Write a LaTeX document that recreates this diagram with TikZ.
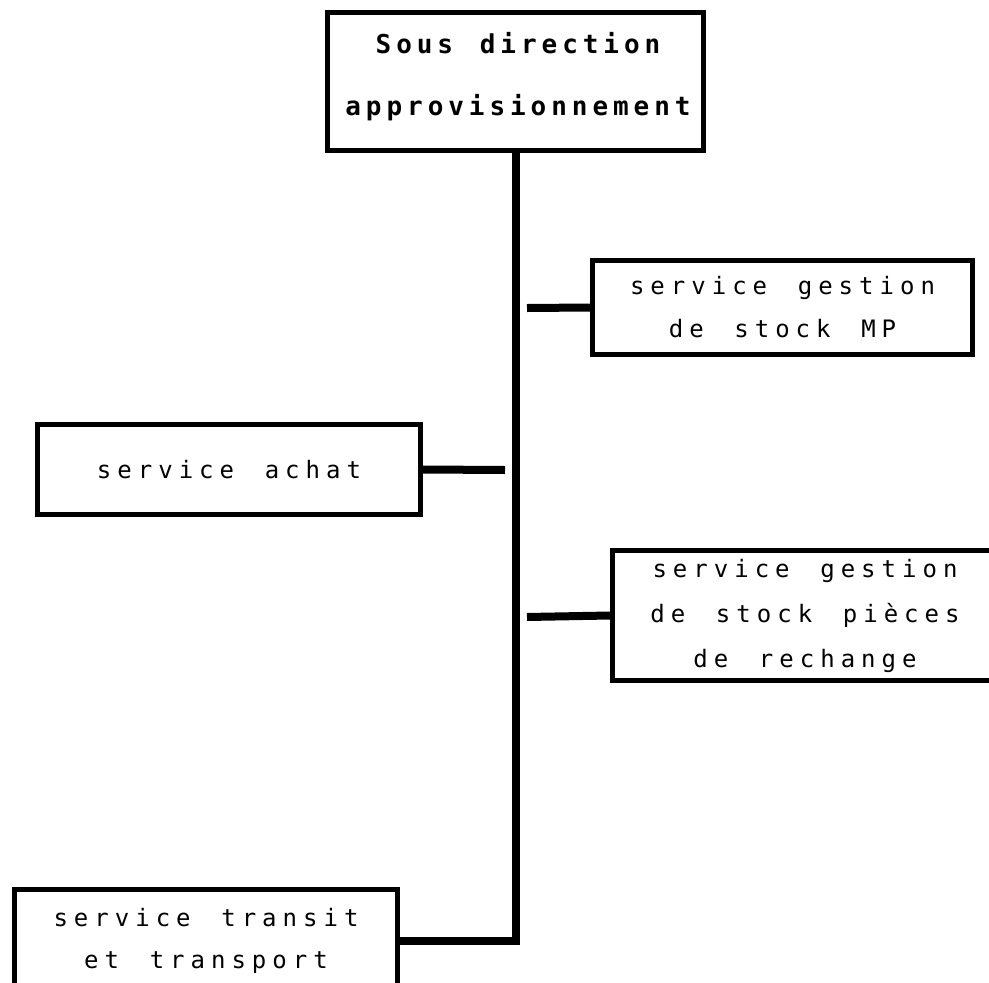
\documentclass[tikz,border=0pt]{standalone}
\usepackage{fontspec}
% widely spaced monospaced lettering of the organisation chart
\newfontfamily\orgfont[LetterSpace=25,WordSpace=1.5]{DejaVu Sans Mono}
\newfontfamily\orgheadfont[LetterSpace=19,WordSpace=1.3]{DejaVu Sans Mono Bold}
\begin{document}
\begin{tikzpicture}[x=1pt,y=-1pt,
  unitbox/.style={draw=black, line width=5pt, inner sep=0pt, align=center,
    font=\orgfont\fontsize{24}{43}\selectfont},
  link/.style={draw=black, line width=8pt, line join=miter}]
\useasboundingbox (0,0) rectangle (989,983);
\clip (0,0) rectangle (989,983);

% head of the department
\node[unitbox, minimum width=376pt, minimum height=138pt] (head) at (515.5,81.5) {};
\node[font=\orgheadfont\fontsize{26}{62}\selectfont, align=center, inner sep=0pt]
  (headlabel) at (518,77) {Sous direction\\approvisionnement};

% services
\node[unitbox, minimum width=380pt, minimum height=94pt] (mp) at (782.5,307.5)
  {service gestion\\de stock MP};
\node[unitbox, minimum width=383pt, minimum height=90pt] (achat) at (229,469.5)
  {service achat};
\node[unitbox, minimum width=385pt, minimum height=130pt, font=\orgfont\fontsize{24}{45}\selectfont]
  (pieces) at (805,615.5) {service gestion\\de stock pièces\\de rechange};
\node[unitbox, minimum width=383pt, minimum height=103pt, font=\orgfont\fontsize{24}{42}\selectfont]
  (transit) at (206,941) {service transit\\et transport};

% free ends of the short branches, left clear of the trunk
\coordinate (mpend) at (527,308);
\coordinate (achatend) at (505,470);
\coordinate (piecesend) at (527,617);

% trunk down to the transit service
\draw[link] (head.south) -- (head.south |- transit.east) -- (transit.east);
% branches
\draw[link] (mp.west) -- (mpend);
\draw[link] (achat.east) -- (achatend);
\draw[link] (pieces.west) -- (piecesend);
\end{tikzpicture}
\end{document}
